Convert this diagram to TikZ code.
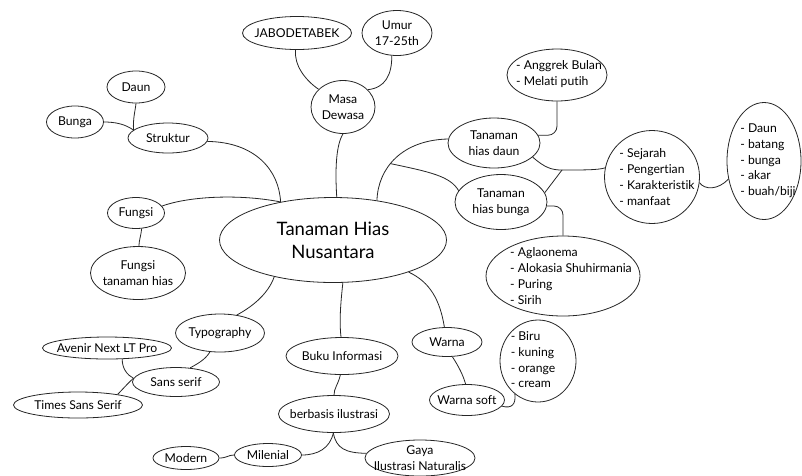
\documentclass[tikz,border=0pt]{standalone}
\usepackage{fontspec}
\setmainfont{Lato}[Ligatures={NoCommon,NoContextual,NoRequired}]
\usetikzlibrary{shapes.geometric}
\newcommand{\nolig}{\kern0pt }
\begin{document}
\begin{tikzpicture}[x=1pt,y=-1pt,
  el/.style={draw=black!85, line width=0.8pt, ellipse, inner sep=0pt},
  lbl/.style={align=center, inner sep=0pt, font=\fontsize{12.2}{15.7}\selectfont},
  lst/.style={align=left, inner sep=0pt, font=\fontsize{12.2}{15.7}\selectfont},
  con/.style={draw=black!85, line width=0.8pt}]
\useasboundingbox[fill=white] (0,0) rectangle (802,475);

% nodes
\node[el, minimum width=227pt, minimum height=85pt, label={[lbl, font=\fontsize{18.5}{23}\selectfont]center:{Tanaman Hias\\Nusantara}}] (main) at (333,240) {};
\node[el, minimum width=64pt, minimum height=53pt, label={[lbl]center:{Masa\\Dewasa}}] (masa) at (343,107) {};
\node[el, minimum width=109pt, minimum height=33pt, label={[lbl]center:{JABODETABEK}}] (jabo) at (297,33) {};
\node[el, minimum width=70pt, minimum height=45pt, label={[lbl]center:{Umur\\17-25th}}] (umur) at (397,33) {};
\node[el, minimum width=58pt, minimum height=32pt, label={[lbl]center:{Daun}}] (daunS) at (136,87) {};
\node[el, minimum width=57pt, minimum height=32pt, label={[lbl]center:{Bunga}}] (bungaS) at (75,122) {};
\node[el, minimum width=80pt, minimum height=30pt, label={[lbl]center:{Struktur}}] (struktur) at (168,138) {};
\node[el, minimum width=57pt, minimum height=31pt, label={[lbl]center:{Fungsi}}] (fungsi) at (136,213) {};
\node[el, minimum width=95pt, minimum height=53pt, label={[lbl]center:{Fungsi\\tanaman hias}}] (fth) at (138,273) {};
\node[el, minimum width=89pt, minimum height=38pt, label={[lbl]center:{Typography}}] (typo) at (220,333) {};
\node[el, minimum width=129pt, minimum height=22pt, label={[lbl]center:{Avenir Next LT Pro}}] (avenir) at (107,348) {};
\node[el, minimum width=87pt, minimum height=29pt, label={[lbl]center:{Sans serif}}] (sans) at (176,382) {};
\node[el, minimum width=129pt, minimum height=26pt, label={[lbl]center:{Times Sans Serif}}] (times) at (78,405) {};
\node[el, minimum width=112pt, minimum height=37pt, label={[lbl]center:{Buku Informasi}}] (buku) at (342,356) {};
\node[el, minimum width=111pt, minimum height=37pt, label={[lbl]center:{berbasis ilustrasi}}] (berbasis) at (334,414) {};
\node[el, minimum width=66pt, minimum height=23pt, label={[lbl]center:{Modern}}] (modern) at (186,458) {};
\node[el, minimum width=67pt, minimum height=23pt, label={[lbl]center:{Milenial}}] (milenial) at (268,455) {};
\node[el, minimum width=110pt, minimum height=36pt, label={[lbl]center:{Gaya\\Ilustrasi Naturalis}}] (gaya) at (420,458) {};
\node[el, minimum width=70pt, minimum height=29pt, label={[lbl]center:{Warna}}] (warna) at (447,342) {};
\node[el, minimum width=75pt, minimum height=31pt, label={[lbl]center:{Warna soft}}] (wsoft) at (467,400) {};
\node[el, minimum width=76pt, minimum height=82pt, label={[lst, xshift=-5pt, yshift=1pt]center:{- Biru\\- kuning\\- orange\\- cream}}] (biru) at (538,361) {};
\node[el, minimum width=154pt, minimum height=80pt, label={[lst, xshift=8pt]center:{- Aglaonema\\- Alokasia Shuhirmania\\- Puring\\- Sirih}}] (agla) at (563,276) {};
\node[el, minimum width=100pt, minimum height=52pt, label={[lst, xshift=2pt, yshift=1pt]center:{- Anggrek Bulan\\- Melat\nolig i putih}}] (anggrek) at (557,75) {};
\node[el, minimum width=92pt, minimum height=50pt, label={[lbl]center:{Tanaman\\hias daun}}] (thdaun) at (494,143) {};
\node[el, minimum width=92pt, minimum height=55pt, label={[lbl]center:{Tanaman\\hias bunga}}] (thbunga) at (501,202) {};
\node[el, minimum width=95pt, minimum height=93pt, label={[lst, xshift=5pt]center:{- Sejarah\\- Pengert\nolig ian\\- Karakterist\nolig ik\\- manfaat}}] (sejarah) at (652,177) {};
\node[el, minimum width=74pt, minimum height=117pt, label={[lst, xshift=4pt]center:{- Daun\\- batang\\- bunga\\- akar\\- buah/biji}}] (bagian) at (764,161) {};

\coordinate (j) at (562,170);

% connectors
\path[con] (main.144) .. controls (279,170) and (255,142) .. (struktur.355);
\path[con] (main.144) .. controls (240,194) and (190,196) .. (fungsi.15);
\path[con] (main.85) .. controls (335,170) and (336,145) .. (masa.south);
\path[con] (masa.144) .. controls (305,80) and (294,65) .. (jabo.265);
\path[con] (masa.35) .. controls (385,88) and (392,75) .. (umur.257);
\path[con] (struktur.167) .. controls (133,118) and (135,112) .. (daunS.south);
\path[con] (struktur.167) .. controls (125,124) and (115,122) .. (bungaS.east);
\path[con] (fungsi.290) .. controls (141,236) and (139,240) .. (fth.88);
\path[con] (main.212) .. controls (268,295) and (250,308) .. (typo.47);
\path[con] (typo.242) .. controls (205,360) and (197,364) .. (sans.45);
\path[con] (sans.175) .. controls (127,375) and (122,368) .. (avenir.324);
\path[con] (sans.175) .. controls (128,383) and (122,390) .. (times.15);
\path[con] (main.283) .. controls (341,300) and (339,320) .. (buku.93);
\path[con] (buku.265) .. controls (338,385) and (334,388) .. (berbasis.north);
\path[con] (berbasis.268) .. controls (330,448) and (318,455) .. (milenial.east);
\path[con] (berbasis.268) .. controls (336,448) and (345,453) .. (gaya.175);
\path[con] (modern.east) .. controls (227,458) and (228,455) .. (milenial.west);
\path[con] (main.337) .. controls (430,282) and (440,300) .. (warna.100);
\path[con] (warna.290) .. controls (459,367) and (463,375) .. (wsoft.95);
\path[con] (wsoft.350) .. controls (512,409) and (516,404) .. (biru.235);
\path[con] (main.42) .. controls (378,168) and (402,140) .. coordinate[pos=0.42] (br) (thdaun.175);
\path[con] (br) .. controls (430,172) and (450,176) .. (thbunga.165);
\path[con, rounded corners=9pt] (thdaun.10) -| (anggrek.south);
\path[con] (thdaun.340) .. controls (545,168) and (552,170) .. (j);
\path[con] (j) .. controls (585,170) and (598,170) .. (sejarah.169);
\path[con] (thbunga.12) -- (j);
\path[con, rounded corners=9pt] (thbunga.355) -| (agla.north);
\path[con] (sejarah.353) .. controls (705,190) and (718,190) .. (bagian.207);
\end{tikzpicture}
\end{document}
